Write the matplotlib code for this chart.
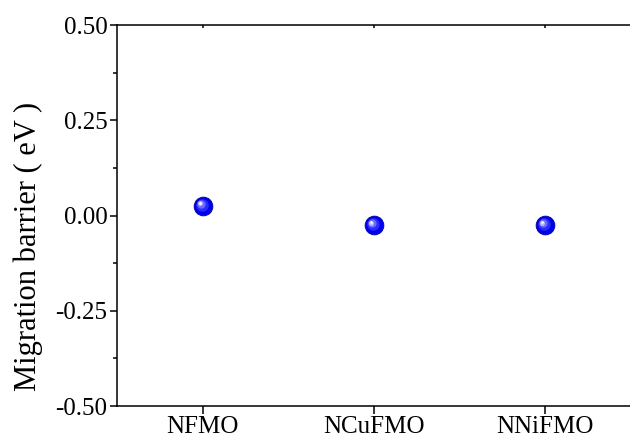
"""Migration barrier per composition."""

import numpy as np
import matplotlib
import matplotlib.pyplot as plt
from matplotlib import transforms

matplotlib.use("Agg")

compounds = ["NFMO", "NCuFMO", "NNiFMO"]
barrier = [0.025, -0.025, -0.025]
yticks = [-0.50, -0.25, 0.00, 0.25, 0.50]

plt.rcParams.update({
    "font.family": ["Liberation Serif", "DejaVu Serif"],
    "font.size": 18,
})

fig = plt.figure(figsize=(6.3, 4.45), dpi=100)
ax = fig.add_axes([0.186, 0.0876, 0.814, 0.8562])

xpos = np.arange(1, len(compounds) + 1)

# fake shaded sphere: blue disc, then lighter discs offset toward the upper left
ax.plot(xpos, barrier, "o", ms=13.5, color="#0000f0", mec="#0000a0", mew=0.6,
        zorder=3)
layers = [
    (9.0, "#2a2aff", -0.6, 0.6),
    (6.0, "#6a6aff", -1.2, 1.2),
    (3.6, "#b8b8ff", -1.8, 1.8),
    (1.8, "#ffffff", -2.0, 2.0),
]
for ms, col, dx, dy in layers:
    tr = transforms.offset_copy(ax.transData, fig=fig, x=dx, y=dy, units="points")
    ax.plot(xpos, barrier, "o", ms=ms, color=col, mew=0, transform=tr, zorder=4)

ax.set_xlim(0.5, 3.5)
ax.set_ylim(-0.5, 0.5)
ax.set_xticks(xpos)
ax.set_xticklabels(compounds)
ax.set_yticks(yticks)
ax.set_yticklabels([f"{v:.2f}" for v in yticks])
ax.set_yticks(np.arange(-0.375, 0.5, 0.25), minor=True)

ax.set_ylabel("Migration barrier ( eV )", fontsize=22)
ax.yaxis.set_label_coords(-0.144, 0.42)

for side in ["left", "bottom", "top"]:
    ax.spines[side].set_linewidth(1.1)
ax.spines["right"].set_visible(False)

ax.tick_params(axis="y", which="major", direction="out", length=5, width=1.1, pad=2)
ax.tick_params(axis="y", which="minor", direction="out", length=3, width=1.1)
ax.tick_params(axis="x", which="major", direction="out", length=6, width=1.1, pad=1)
ax.tick_params(axis="x", which="minor", bottom=False, top=False)

# Origin-style tiny inward ticks along the top frame
ax.tick_params(axis="x", which="major", top=True)
for t in ax.xaxis.get_major_ticks():
    t.tick2line.set_marker(matplotlib.markers.TICKDOWN)
    t.tick2line.set_markersize(2)

fig.savefig("out.png", dpi=100)
